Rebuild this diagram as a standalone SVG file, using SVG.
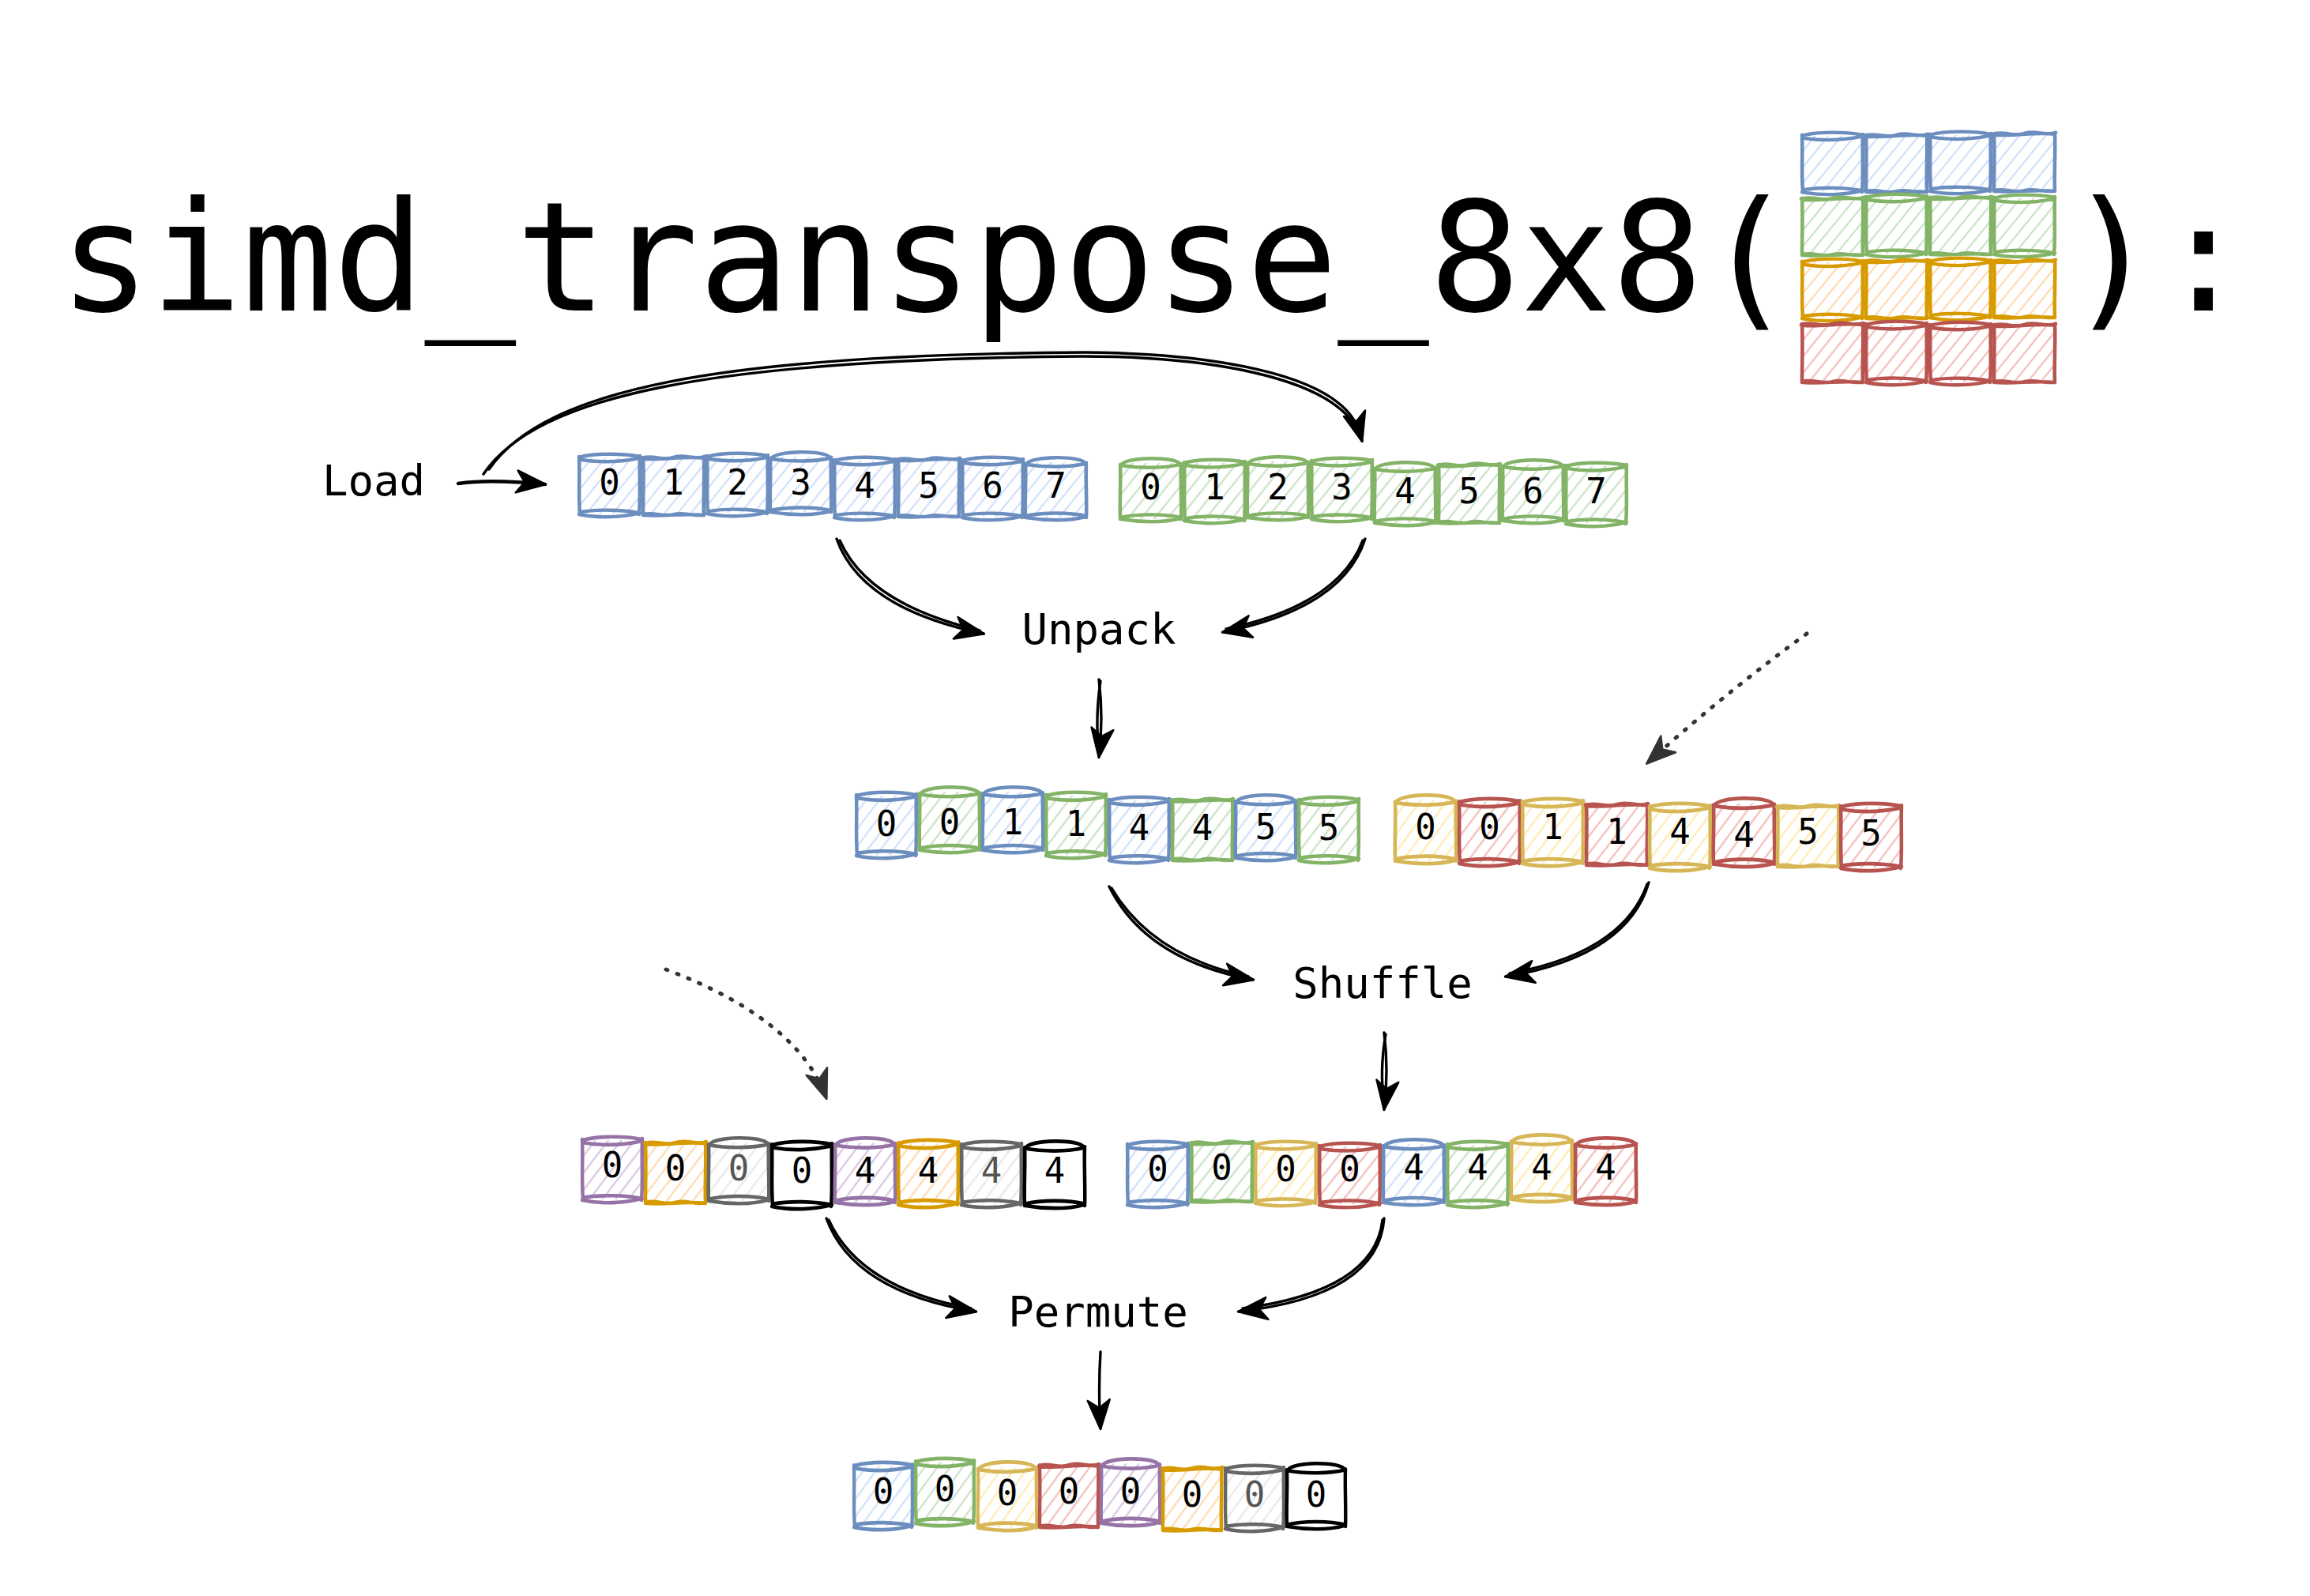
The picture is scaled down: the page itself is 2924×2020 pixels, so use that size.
<svg xmlns="http://www.w3.org/2000/svg" xmlns:xlink="http://www.w3.org/1999/xlink" width="2924" height="2020" viewBox="0 0 2924 2020">
<style>
.t{font-family:"DejaVu Sans Mono","Liberation Mono",monospace;fill:#000}
.title{font-size:192px}
.lbl{font-size:54px}
.d{font-size:44px;text-anchor:middle}
.dg{fill:#555}
.b{stroke:#6c8ebf;fill:url(#hb)}
.g{stroke:#82b366;fill:url(#hg)}
.y{stroke:#d6b656;fill:url(#hy)}
.r{stroke:#b85450;fill:url(#hr)}
.p{stroke:#9673a6;fill:url(#hp)}
.o{stroke:#d79b00;fill:url(#ho)}
.s{stroke:#666666;fill:url(#hs)}
.k{stroke:#000000;fill:#ffffff}
.con{fill:none;stroke:#000;stroke-width:3.4;stroke-linecap:round;stroke-linejoin:round}
.dot{fill:none;stroke:#333;stroke-width:5;stroke-dasharray:2 13;stroke-linecap:round}
</style>
<defs>
<pattern id="hb" patternUnits="userSpaceOnUse" width="13" height="13" patternTransform="rotate(38)"><line x1="6" y1="-2" x2="6" y2="15" stroke="#cfe0fa" stroke-width="2.2"/></pattern>
<pattern id="hg" patternUnits="userSpaceOnUse" width="13" height="13" patternTransform="rotate(38)"><line x1="6" y1="-2" x2="6" y2="15" stroke="#c8e2c5" stroke-width="2.2"/></pattern>
<pattern id="hy" patternUnits="userSpaceOnUse" width="13" height="13" patternTransform="rotate(38)"><line x1="6" y1="-2" x2="6" y2="15" stroke="#ffeab0" stroke-width="2.2"/></pattern>
<pattern id="hr" patternUnits="userSpaceOnUse" width="13" height="13" patternTransform="rotate(38)"><line x1="6" y1="-2" x2="6" y2="15" stroke="#f4bdba" stroke-width="2.2"/></pattern>
<pattern id="hp" patternUnits="userSpaceOnUse" width="13" height="13" patternTransform="rotate(38)"><line x1="6" y1="-2" x2="6" y2="15" stroke="#d9c6e2" stroke-width="2.2"/></pattern>
<pattern id="ho" patternUnits="userSpaceOnUse" width="13" height="13" patternTransform="rotate(38)"><line x1="6" y1="-2" x2="6" y2="15" stroke="#ffd9b0" stroke-width="2.2"/></pattern>
<pattern id="hs" patternUnits="userSpaceOnUse" width="13" height="13" patternTransform="rotate(38)"><line x1="6" y1="-2" x2="6" y2="15" stroke="#e8e8e8" stroke-width="2.2"/></pattern>
<symbol id="cA" viewBox="0 0 80 84" preserveAspectRatio="none" overflow="visible">
<rect x="3" y="7" width="74" height="73" stroke="none"/>
<path fill="none" stroke-width="4.5" stroke-linecap="round" stroke-linejoin="round" d="M2,7 C22,1 58,2 78,6 M3,10 C28,14 54,13 77,8 M2,6 C3,30 1,58 3,80 M78,5 C77,30 79,58 77,81 M3,78 C26,74 56,75 77,79 M2,81 C26,86 56,85 78,79"/>
</symbol>
<symbol id="cB" viewBox="0 0 80 84" preserveAspectRatio="none" overflow="visible">
<rect x="3" y="8" width="74" height="72" stroke="none"/>
<path fill="none" stroke-width="4.5" stroke-linecap="round" stroke-linejoin="round" d="M3,11 C6,0 73,-1 77,10 M2,11 C26,15 56,15 78,10 M2,10 C3,32 1,58 2,80 M78,9 C77,32 79,58 78,80 M2,78 C22,73 58,73 78,78 M3,80 C26,84 56,85 77,79"/>
</symbol>
<symbol id="cC" viewBox="0 0 80 84" preserveAspectRatio="none" overflow="visible">
<rect x="3" y="7" width="74" height="73" stroke="none"/>
<path fill="none" stroke-width="4.5" stroke-linecap="round" stroke-linejoin="round" d="M1,7 C14,2 26,11 40,6 C54,1 66,10 79,5 M2,8 C28,10 52,4 78,7 M2,6 C3,30 2,58 2,81 M78,5 C79,30 77,58 78,81 M2,80 C16,76 26,84 40,80 C54,76 66,84 78,80 M3,81 C30,83 52,78 77,81"/>
</symbol>
<marker id="ah" markerUnits="userSpaceOnUse" markerWidth="42" markerHeight="34" viewBox="0 0 42 34" refX="38" refY="17" orient="auto"><path d="M2,3 L39,17 L2,31 L12,17 Z" fill="#000" stroke="#000" stroke-width="2.5" stroke-linejoin="round"/></marker>
<marker id="ahg" markerUnits="userSpaceOnUse" markerWidth="42" markerHeight="34" viewBox="0 0 42 34" refX="38" refY="17" orient="auto"><path d="M2,3 L39,17 L2,31 L12,17 Z" fill="#333" stroke="#333" stroke-width="2.5" stroke-linejoin="round"/></marker>
</defs>
<rect width="2924" height="2020" fill="#fff"/>

<g id="title">
<text class="t title" x="75" y="393">simd_transpose_8x8(</text>
<text class="t title" x="2616" y="393">):</text>
<g id="matrix">
<use href="#cA" class="b" x="2279" y="165" width="81" height="81"/>
<use href="#cC" class="b" x="2360" y="165" width="81" height="81"/>
<use href="#cA" class="b" x="2441" y="164" width="81" height="81"/>
<use href="#cC" class="b" x="2522" y="163" width="81" height="82"/>
<use href="#cC" class="g" x="2279" y="245" width="81" height="81"/>
<use href="#cA" class="g" x="2360" y="243" width="81" height="82"/>
<use href="#cC" class="g" x="2441" y="244" width="81" height="81"/>
<use href="#cA" class="g" x="2522" y="244" width="81" height="81"/>
<use href="#cA" class="o" x="2279" y="325" width="81" height="81"/>
<use href="#cC" class="o" x="2360" y="324" width="81" height="82"/>
<use href="#cA" class="o" x="2441" y="324" width="81" height="81"/>
<use href="#cC" class="o" x="2522" y="324" width="81" height="81"/>
<use href="#cC" class="r" x="2279" y="404" width="81" height="83"/>
<use href="#cA" class="r" x="2360" y="404" width="81" height="83"/>
<use href="#cA" class="r" x="2441" y="405" width="81" height="82"/>
<use href="#cC" class="r" x="2522" y="405" width="81" height="82"/>
</g>
</g>

<g id="label-load"><text class="t lbl" x="408" y="627">Load</text></g>
<g id="label-unpack"><text class="t lbl" x="1391" y="815" text-anchor="middle">Unpack</text></g>
<g id="label-shuffle"><text class="t lbl" x="1750" y="1263" text-anchor="middle">Shuffle</text></g>
<g id="label-permute"><text class="t lbl" x="1390" y="1679" text-anchor="middle">Permute</text></g>

<g id="load-a">
<use href="#cA" class="b" x="731" y="572" width="81" height="82"/>
<use href="#cC" class="b" x="812" y="573" width="81" height="82"/>
<use href="#cA" class="b" x="893" y="571" width="81" height="82"/>
<use href="#cB" class="b" x="973" y="570" width="81" height="82"/>
<use href="#cA" class="b" x="1054" y="576" width="81" height="82"/>
<use href="#cC" class="b" x="1135" y="575" width="81" height="82"/>
<use href="#cA" class="b" x="1216" y="576" width="81" height="82"/>
<use href="#cB" class="b" x="1296" y="577" width="81" height="82"/>
<text class="t d" x="771.5" y="626">0</text><text class="t d" x="852.5" y="626">1</text><text class="t d" x="933.5" y="626">2</text><text class="t d" x="1013.5" y="626">3</text>
<text class="t d" x="1094.5" y="630">4</text><text class="t d" x="1175.5" y="630">5</text><text class="t d" x="1256.5" y="630">6</text><text class="t d" x="1336.5" y="630">7</text>
</g>

<g id="load-b">
<use href="#cB" class="g" x="1416" y="578" width="81" height="83"/>
<use href="#cA" class="g" x="1497" y="579" width="81" height="83"/>
<use href="#cB" class="g" x="1577" y="576" width="81" height="83"/>
<use href="#cA" class="g" x="1658" y="577" width="81" height="83"/>
<use href="#cB" class="g" x="1738" y="583" width="81" height="83"/>
<use href="#cC" class="g" x="1819" y="582" width="81" height="83"/>
<use href="#cB" class="g" x="1900" y="580" width="81" height="83"/>
<use href="#cA" class="g" x="1980" y="583" width="81" height="83"/>
<text class="t d" x="1456.5" y="632">0</text><text class="t d" x="1537.5" y="632">1</text><text class="t d" x="1617.5" y="632">2</text><text class="t d" x="1698.5" y="632">3</text>
<text class="t d" x="1778.5" y="637">4</text><text class="t d" x="1859.5" y="637">5</text><text class="t d" x="1940.5" y="637">6</text><text class="t d" x="2020.5" y="637">7</text>
</g>

<g id="unpack-a">
<use href="#cA" class="b" x="1082" y="1000" width="80" height="86"/>
<use href="#cB" class="g" x="1162" y="994" width="80" height="86"/>
<use href="#cB" class="b" x="1242" y="994" width="80" height="86"/>
<use href="#cA" class="g" x="1322" y="1000" width="80" height="86"/>
<use href="#cA" class="b" x="1402" y="1006" width="80" height="86"/>
<use href="#cC" class="g" x="1482" y="1006" width="80" height="86"/>
<use href="#cB" class="b" x="1562" y="1004" width="80" height="86"/>
<use href="#cA" class="g" x="1642" y="1006" width="80" height="86"/>
<text class="t d" x="1122" y="1058">0</text><text class="t d" x="1202" y="1056">0</text><text class="t d" x="1282" y="1056">1</text><text class="t d" x="1362" y="1058">1</text>
<text class="t d" x="1442" y="1063">4</text><text class="t d" x="1522" y="1063">4</text><text class="t d" x="1602" y="1062">5</text><text class="t d" x="1682" y="1063">5</text>
</g>

<g id="unpack-b">
<use href="#cB" class="y" x="1764" y="1004" width="81" height="90"/>
<use href="#cA" class="r" x="1845" y="1008" width="81" height="88"/>
<use href="#cA" class="y" x="1925" y="1008" width="81" height="88"/>
<use href="#cC" class="r" x="2006" y="1012" width="81" height="86"/>
<use href="#cA" class="y" x="2086" y="1014" width="81" height="88"/>
<use href="#cB" class="r" x="2167" y="1008" width="81" height="90"/>
<use href="#cC" class="y" x="2248" y="1014" width="81" height="86"/>
<use href="#cA" class="r" x="2328" y="1014" width="81" height="88"/>
<text class="t d" x="1804.5" y="1062">0</text><text class="t d" x="1885.5" y="1062">0</text><text class="t d" x="1965.5" y="1062">1</text><text class="t d" x="2046.5" y="1068">1</text>
<text class="t d" x="2126.5" y="1068">4</text><text class="t d" x="2207.5" y="1072">4</text><text class="t d" x="2288.5" y="1068">5</text><text class="t d" x="2368.5" y="1070">5</text>
</g>

<g id="shuffle-a">
<use href="#cA" class="p" x="735" y="1436" width="80" height="86"/>
<use href="#cC" class="o" x="815" y="1440" width="80" height="86"/>
<use href="#cB" class="s" x="895" y="1438" width="80" height="86"/>
<use href="#cA" class="k" x="975" y="1442" width="80" height="88"/>
<use href="#cB" class="p" x="1055" y="1438" width="80" height="88"/>
<use href="#cA" class="o" x="1135" y="1440" width="80" height="88"/>
<use href="#cA" class="s" x="1215" y="1442" width="80" height="86"/>
<use href="#cB" class="k" x="1295" y="1442" width="80" height="88"/>
<text class="t d" x="775" y="1490">0</text><text class="t d" x="855" y="1494">0</text><text class="t d dg" x="935" y="1494">0</text><text class="t d" x="1015" y="1497">0</text>
<text class="t d" x="1095" y="1497">4</text><text class="t d" x="1175" y="1497">4</text><text class="t d dg" x="1255" y="1497">4</text><text class="t d" x="1335" y="1497">4</text>
</g>

<g id="shuffle-b">
<use href="#cA" class="b" x="1425" y="1442" width="81" height="86"/>
<use href="#cC" class="g" x="1506" y="1440" width="81" height="84"/>
<use href="#cA" class="y" x="1587" y="1442" width="81" height="84"/>
<use href="#cA" class="r" x="1668" y="1444" width="81" height="84"/>
<use href="#cB" class="b" x="1749" y="1440" width="81" height="86"/>
<use href="#cA" class="g" x="1830" y="1442" width="81" height="86"/>
<use href="#cB" class="y" x="1911" y="1434" width="81" height="88"/>
<use href="#cB" class="r" x="1992" y="1438" width="81" height="88"/>
<text class="t d" x="1465.5" y="1495">0</text><text class="t d" x="1546.5" y="1493">0</text><text class="t d" x="1627.5" y="1495">0</text><text class="t d" x="1708.5" y="1495">0</text>
<text class="t d" x="1789.5" y="1493">4</text><text class="t d" x="1870.5" y="1493">4</text><text class="t d" x="1951.5" y="1493">4</text><text class="t d" x="2032.5" y="1493">4</text>
</g>

<g id="permute-out">
<use href="#cA" class="b" x="1079" y="1848" width="78" height="88"/>
<use href="#cA" class="g" x="1157" y="1843" width="78" height="88"/>
<use href="#cB" class="y" x="1236" y="1848" width="78" height="90"/>
<use href="#cC" class="r" x="1314" y="1848" width="78" height="88"/>
<use href="#cB" class="p" x="1392" y="1844" width="78" height="88"/>
<use href="#cC" class="o" x="1470" y="1852" width="78" height="88"/>
<use href="#cA" class="s" x="1549" y="1852" width="78" height="86"/>
<use href="#cB" class="k" x="1627" y="1850" width="78" height="86"/>
<text class="t d" x="1118" y="1903">0</text><text class="t d" x="1196" y="1900">0</text><text class="t d" x="1275" y="1905">0</text><text class="t d" x="1353" y="1903">0</text>
<text class="t d" x="1431" y="1903">0</text><text class="t d" x="1509" y="1907">0</text><text class="t d dg" x="1588" y="1907">0</text><text class="t d" x="1666" y="1907">0</text>
</g>

<g id="connectors">
<path class="con" d="M580 612 Q620 606 690 613" marker-end="url(#ah)" style="stroke-width:4.5"/>
<path class="con" d="M612 600 C680 500 900 455 1370 451 C1500 451 1700 470 1724 558" marker-end="url(#ah)"/>
<path class="con" d="M619 594 C690 492 910 449 1372 446 C1505 447 1704 466 1722 552"/>
<path class="con" d="M1059 682 Q1090 770 1245 802" marker-end="url(#ah)"/>
<path class="con" d="M1063 684 Q1098 764 1240 798"/>
<path class="con" d="M1728 682 Q1700 770 1548 800" marker-end="url(#ah)"/>
<path class="con" d="M1725 684 Q1694 766 1552 796"/>
<path class="con" d="M1391 860 Q1397 910 1391 958" marker-end="url(#ah)"/>
<path class="con" d="M1393 862 Q1386 910 1391 950"/>
<path class="dot" d="M2287 802 Q2180 880 2085 966" marker-end="url(#ahg)"/>
<path class="con" d="M1404 1122 Q1450 1215 1586 1240" marker-end="url(#ah)"/>
<path class="con" d="M1407 1124 Q1458 1210 1580 1236"/>
<path class="con" d="M2087 1117 Q2060 1210 1906 1236" marker-end="url(#ah)"/>
<path class="con" d="M2085 1119 Q2054 1206 1911 1232"/>
<path class="con" d="M1752 1307 Q1758 1355 1752 1404" marker-end="url(#ah)"/>
<path class="con" d="M1754 1309 Q1746 1355 1752 1396"/>
<path class="dot" d="M843 1227 Q1010 1290 1046 1390" marker-end="url(#ahg)"/>
<path class="con" d="M1046 1542 Q1080 1635 1235 1660" marker-end="url(#ah)"/>
<path class="con" d="M1049 1544 Q1088 1630 1229 1656"/>
<path class="con" d="M1752 1542 Q1745 1640 1568 1660" marker-end="url(#ah)"/>
<path class="con" d="M1750 1544 Q1740 1634 1573 1656"/>
<path class="con" d="M1393 1711 Q1390 1760 1393 1808" marker-end="url(#ah)"/>
</g>
</svg>
